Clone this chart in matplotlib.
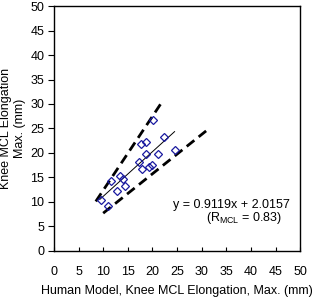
import matplotlib.pyplot as plt
import numpy as np

plt.rcParams["font.family"] = ["Liberation Sans", "DejaVu Sans"]

# -------------------------
# Data
# -------------------------
human_model = [9.5, 11.0, 11.6, 13.4, 14.1, 12.9, 14.4, 17.3, 17.9, 18.7,
               19.3, 19.9, 17.7, 18.7, 21.1, 22.4, 20.2, 24.6]
physical_test = [10.4, 9.2, 14.3, 15.3, 14.7, 12.2, 13.2, 18.1, 16.7, 19.7,
                 17.1, 17.6, 21.8, 22.2, 19.7, 23.2, 26.7, 20.6]

slope = 0.9119
intercept = 2.0157
fit_x = [9.3, 24.5]

upper_x = [8.5, 22.2]
upper_y = [10.1, 30.8]
lower_x = [10.0, 30.9]
lower_y = [7.7, 24.5]

ticks = list(range(0, 55, 5))

# -------------------------
# Plot
# -------------------------
fig = plt.figure(figsize=(3.35, 3.03), dpi=100)
ax = fig.add_axes([0.161, 0.172, 0.735, 0.808])

fx = np.array(fit_x)
ax.plot(fx, slope * fx + intercept, color="black", lw=0.7)
ax.plot(upper_x, upper_y, color="black", lw=2, ls=(0, (3.5, 2)))
ax.plot(lower_x, lower_y, color="black", lw=2, ls=(0, (3.5, 2)))
ax.plot(human_model, physical_test, ls="none", marker="D", ms=4.5,
        mfc="none", mec="#1a1aa0", mew=0.9)

ax.set_xlim(0, 50)
ax.set_ylim(0, 50)
ax.set_xticks(ticks)
ax.set_yticks(ticks)
ax.tick_params(axis="x", direction="in", length=3, pad=11, labelsize=9)
ax.tick_params(axis="y", direction="out", length=4, pad=3, labelsize=9)
for s in ax.spines.values():
    s.set_linewidth(1.0)

ax.text(48.0, 9.4, "y = 0.9119x + 2.0157", ha="right", va="center", fontsize=9)
ax.text(46.3, 6.7, r"(R$_{\mathregular{MCL}}$ = 0.83)", ha="right",
        va="center", fontsize=9)

ax.set_xlabel("Human Model, Knee MCL Elongation, Max. (mm)", fontsize=9,
              labelpad=5)
ax.set_ylabel("Knee MCL Elongation\nMax. (mm)", fontsize=9)
ax.yaxis.set_label_coords(-0.115, 0.5)

fig.savefig("out.png", dpi=100)
